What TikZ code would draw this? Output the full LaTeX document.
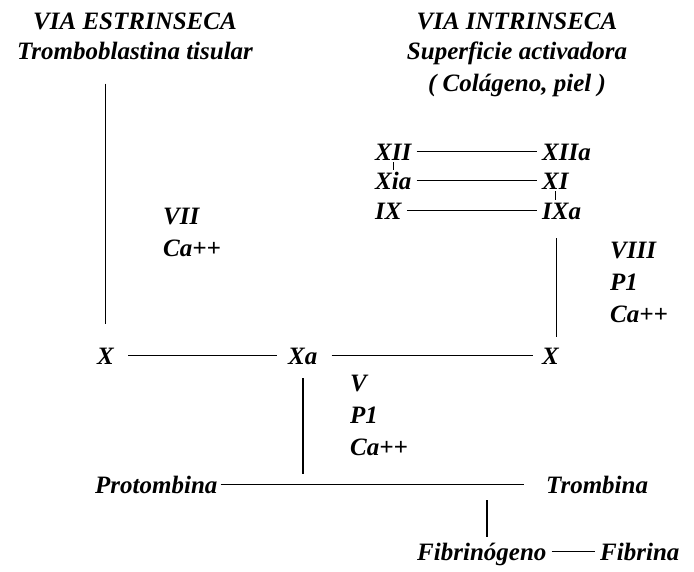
\documentclass[tikz,border=0pt]{standalone}
\usepackage{fontspec}
\setmainfont{Liberation Serif}

\begin{document}
\begin{tikzpicture}[x=1pt, y=-1pt,
    lbl/.style={font=\bfseries\itshape\fontsize{25}{30}\selectfont, inner xsep=5pt, inner ysep=2pt, text height=17pt, text depth=0pt, anchor=base west},
    blk/.style={font=\bfseries\itshape\fontsize{25}{30}\selectfont, inner sep=0pt},
    ln/.style={line width=1.5pt},
    tick/.style={line width=1.1pt},
]
\useasboundingbox (0,0) rectangle (694,571);

% Headings
\node[blk, anchor=north, align=center] (hdex) at (135,12.5) {VIA ESTRINSECA\\Tromboblastina tisular};
\node[blk, anchor=north, align=center] (hdin) at (517,12.5) {VIA INTRINSECA\\Superficie activadora\\[2pt]( Colágeno, piel )};

% Intrinsic cascade
\node[lbl] (xii) at (370,160) {XII};
\node[lbl] (xiia) at (537,160) {XIIa};
\node[lbl] (xia) at (370,189) {Xia};
\node[lbl] (xi) at (537,189) {XI};
\node[lbl] (ix) at (370,219) {IX};
\node[lbl] (ixa) at (537,219) {IXa};

% Cofactors
\node[blk, anchor=north west, align=left] (f7) at (163,207.5) {VII\\[2pt]Ca++};
\node[blk, anchor=north west, align=left] (f8) at (610,241.5) {VIII\\[2pt]P1\\[2pt]Ca++};
\node[blk, anchor=north west, align=left] (f5) at (350,374.5) {V\\[2pt]P1\\[2pt]Ca++};

% Common pathway
\node[lbl] (xl) at (92,364) {X};
\node[lbl] (xa) at (283,364) {Xa};
\node[lbl] (xr) at (537,364) {X};
\node[lbl] (pro) at (90,493) {Protombina};
\node[lbl] (trm) at (541,493) {Trombina};
\node[lbl] (fib) at (412,560) {Fibrinógeno};
\node[lbl] (fbr) at (595,560) {Fibrina};

% Lines
\draw[ln] (xii) -- (xiia);
\draw[ln] (xia) -- (xi);
\draw[ln] (ix) -- (ixa);
\draw[tick] (xii.south) -- (xii.south |- xia.north);
\draw[tick] (xi.south) -- (xi.south |- ixa.north);
\draw[ln, shorten <=24pt, shorten >=21pt] (hdex.south -| xl) -- (xl);
\draw[ln, shorten <=17pt, shorten >=8pt] ([xshift=6pt]xr.north |- ixa.south) -- ([xshift=6pt]xr.north);
\draw[ln, shorten <=9pt, shorten >=6pt] (xl) -- (xa);
\draw[ln, shorten <=9pt, shorten >=4pt] (xa) -- (xr);
\draw[ln, shorten <=12pt] (xa.south) -- (xa.south |- pro.north);
\draw[ln, shorten <=-2pt, shorten >=17pt] (pro) -- (trm);
\draw[ln, shorten <=5pt, shorten >=4pt] ([xshift=5pt]fib.north |- pro.south) -- ([xshift=5pt]fib.north);
\draw[ln] (fib) -- (fbr);
\end{tikzpicture}
\end{document}
